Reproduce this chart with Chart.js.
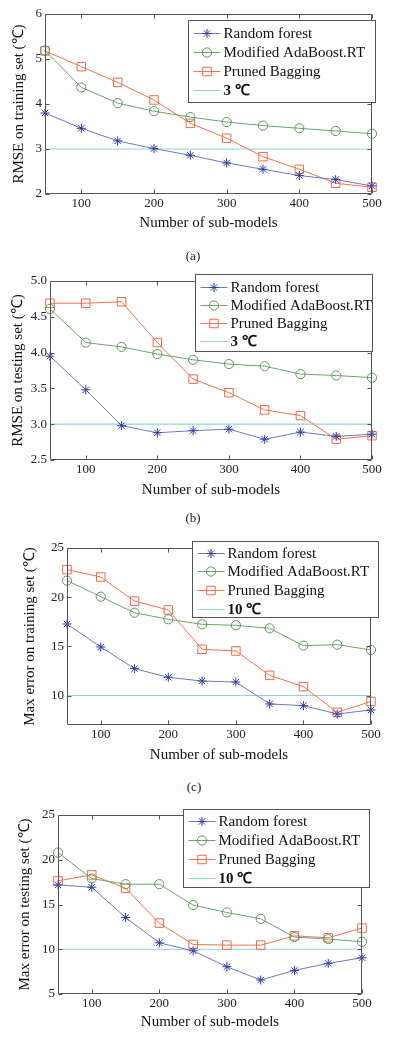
<!DOCTYPE html>
<html>
<head>
<meta charset="utf-8">
<script src="https://cdn.jsdelivr.net/npm/chart.js@4.4.0/dist/chart.umd.min.js"></script>
<style>
  body { margin: 0; background: #fff; width: 395px; height: 1039px; position: relative; overflow: hidden; }
  canvas { position: absolute; left: 0; }
  .cap { position: absolute; width: 40px; text-align: center; font: 13px/16px "Liberation Serif", serif; color: #222; }
</style>
</head>
<body>
<canvas id="chartA" width="395" height="240" style="top:0px"></canvas>
<canvas id="chartB" width="395" height="240" style="top:262px"></canvas>
<canvas id="chartC" width="395" height="240" style="top:527px"></canvas>
<canvas id="chartD" width="395" height="244" style="top:795px"></canvas>
<div class="cap" style="left:173px;top:248px">(a)</div>
<div class="cap" style="left:173px;top:510px">(b)</div>
<div class="cap" style="left:174px;top:779px">(c)</div>

<script>
// number of sub-models
var xValues = [50, 100, 150, 200, 250, 300, 350, 400, 450, 500];
var xTickLabels = ['100', '200', '300', '400', '500'];
var seriesNames = ['Random forest', 'Modified AdaBoost.RT', 'Pruned Bagging'];

// (a) RMSE on training set
var rfTrainRmse  = [3.80, 3.46, 3.18, 3.01, 2.86, 2.69, 2.55, 2.41, 2.32, 2.18];
var adaTrainRmse = [5.19, 4.37, 4.02, 3.84, 3.71, 3.60, 3.52, 3.46, 3.40, 3.34];
var pbTrainRmse  = [5.18, 4.83, 4.48, 4.09, 3.57, 3.24, 2.83, 2.55, 2.24, 2.15];
// (b) RMSE on testing set
var rfTestRmse  = [3.95, 3.48, 2.98, 2.88, 2.91, 2.93, 2.79, 2.89, 2.83, 2.86];
var adaTestRmse = [4.61, 4.14, 4.08, 3.98, 3.90, 3.84, 3.81, 3.70, 3.68, 3.65];
var pbTestRmse  = [4.69, 4.69, 4.71, 4.14, 3.63, 3.44, 3.20, 3.12, 2.79, 2.84];
// (c) max error on training set
var rfTrainMax  = [17.27, 14.93, 12.73, 11.85, 11.47, 11.37, 9.14, 8.97, 8.12, 8.53];
var adaTrainMax = [21.68, 20.05, 18.42, 17.75, 17.24, 17.14, 16.83, 15.07, 15.17, 14.63];
var pbTrainMax  = [22.80, 22.05, 19.60, 18.70, 14.70, 14.53, 12.05, 10.90, 8.29, 9.40];
// (d) max error on testing set
var rfTestMax  = [17.19, 16.93, 13.55, 10.72, 9.83, 8.05, 6.56, 7.64, 8.42, 9.05];
var adaTestMax = [20.80, 17.90, 17.27, 17.27, 14.93, 14.11, 13.40, 11.36, 11.13, 10.84];
var pbTestMax  = [17.64, 18.31, 16.82, 12.92, 10.54, 10.46, 10.46, 11.50, 11.28, 12.36];

var rmseLimit = 3;
var maxLimit = 10;
var limitLabels = ['3 \u2103', '10 \u2103'];

var yTicksA = ['2', '3', '4', '5', '6'];
var yTicksB = ['2.5', '3.0', '3.5', '4.0', '4.5', '5.0'];
var yTicksC = ['10', '15', '20', '25'];
var yTicksD = ['5', '10', '15', '20', '25'];
var yTitles = ['RMSE on training set (\u2103)', 'RMSE on testing set (\u2103)',
               'Max error on training set (\u2103)', 'Max error on testing set (\u2103)'];
var xTitle = 'Number of sub-models';

// page layout of each panel (absolute px)
var panels = [
  { id: 'chartA', top: 0,   h: 240, left: 45, right: 372, plotTop: 14,  plotBottom: 194, yMin: 2,   yMax: 6, yTitleX: 19, xTitleY: 223,
    series: [rfTrainRmse, adaTrainRmse, pbTrainRmse], limit: rmseLimit, limitLabel: limitLabels[0], yTicks: yTicksA, yTitle: yTitles[0],
    legend: { x: 188, y: 20, w: 187, h: 82, first: 12, step: 19.3 } },
  { id: 'chartB', top: 262, h: 240, left: 50, right: 372, plotTop: 281, plotBottom: 460, yMin: 2.5, yMax: 5, yTitleX: 18, xTitleY: 490,
    series: [rfTestRmse, adaTestRmse, pbTestRmse], limit: rmseLimit, limitLabel: limitLabels[0], yTicks: yTicksB, yTitle: yTitles[1],
    legend: { x: 195, y: 274, w: 177, h: 77, first: 12, step: 18 } },
  { id: 'chartC', top: 527, h: 240, left: 67, right: 371, plotTop: 548, plotBottom: 725, yMin: 7,   yMax: 25, yTitleX: 30, xTitleY: 755,
    series: [rfTrainMax, adaTrainMax, pbTrainMax], limit: maxLimit, limitLabel: limitLabels[1], yTicks: yTicksC, yTitle: yTitles[2],
    legend: { x: 192, y: 541, w: 186, h: 76, first: 11, step: 18.7 } },
  { id: 'chartD', top: 795, h: 244, left: 58, right: 362, plotTop: 815, plotBottom: 994, yMin: 5,   yMax: 25, yTitleX: 25, xTitleY: 1022,
    series: [rfTestMax, adaTestMax, pbTestMax], limit: maxLimit, limitLabel: limitLabels[1], yTicks: yTicksD, yTitle: yTitles[3],
    legend: { x: 183, y: 809, w: 186, h: 78, first: 11, step: 19 } }
];

var styles = [
  { line: '#6f79c8', mark: '#2f3fa3', pointStyle: 'star',   radius: 4.5 },
  { line: '#6ea46e', mark: '#5e985e', pointStyle: 'circle', radius: 4.6 },
  { line: '#f2734f', mark: '#ee6a48', pointStyle: 'rect',   radius: 6 }
];
var limitColor = '#92d5d5';
var serif = '"Liberation Serif", "Times New Roman", serif';

// box + inward ticks + legend, matlab style
var framePlugin = {
  id: 'frame',
  afterDatasetsDraw: function(chart, args, opts) {
    var ctx = chart.ctx, a = chart.chartArea, xs = chart.scales.x, ys = chart.scales.y;
    var L = Math.round(a.left) + 0.5, R = Math.round(a.right) - 0.5;
    var T = Math.round(a.top) + 0.5, B = Math.round(a.bottom) - 0.5;
    ctx.save();
    ctx.strokeStyle = '#555';
    ctx.lineWidth = 1;
    ctx.beginPath();
    ctx.rect(L, T, R - L, B - T);
    xs.ticks.forEach(function(t) {
      var px = Math.round(xs.getPixelForValue(t.value)) + 0.5;
      ctx.moveTo(px, B); ctx.lineTo(px, B - 4);
      ctx.moveTo(px, T); ctx.lineTo(px, T + 4);
    });
    ys.ticks.forEach(function(t) {
      var py = Math.round(ys.getPixelForValue(t.value)) + 0.5;
      ctx.moveTo(L, py); ctx.lineTo(L + 4, py);
      ctx.moveTo(R, py); ctx.lineTo(R - 4, py);
    });
    ctx.stroke();

    // legend
    var lg = opts.box, top = opts.top;
    var bx = lg.x + 0.5, by = lg.y - top + 0.5;
    ctx.fillStyle = '#fff';
    ctx.fillRect(bx, by, lg.w, lg.h);
    ctx.strokeStyle = '#555';
    ctx.strokeRect(bx, by, lg.w, lg.h);
    chart.data.datasets.forEach(function(ds, i) {
      var ey = Math.round(by + lg.first + i * lg.step) + 0.5;
      ctx.strokeStyle = ds.borderColor;
      ctx.lineWidth = 1;
      ctx.beginPath();
      ctx.moveTo(bx + 5, ey); ctx.lineTo(bx + 32, ey);
      ctx.stroke();
      if (ds.pointRadius > 0) {
        ctx.strokeStyle = ds.pointBorderColor;
        ctx.fillStyle = 'rgba(0,0,0,0)';
        Chart.helpers.drawPoint(ctx, { pointStyle: ds.pointStyle, radius: ds.pointRadius, rotation: 0, borderWidth: 1 }, bx + 18.5, ey);
      }
      ctx.fillStyle = '#111';
      ctx.font = (ds.isLimit ? 'bold ' : '') + '15px ' + serif;
      ctx.textBaseline = 'middle';
      ctx.textAlign = 'left';
      ctx.fillText(ds.label, bx + 35, ey + 1);
    });
    ctx.restore();
  }
};

panels.forEach(function(p) {
  var datasets = p.series.map(function(vals, i) {
    var s = styles[i];
    return {
      label: seriesNames[i],
      data: xValues.map(function(x, k) { return { x: x, y: vals[k] }; }),
      borderColor: s.line,
      borderWidth: 1,
      pointStyle: s.pointStyle,
      pointRadius: s.radius,
      pointBorderColor: s.mark,
      pointBorderWidth: 1,
      pointBackgroundColor: 'rgba(0,0,0,0)',
      pointHoverRadius: s.radius,
      clip: false,
      tension: 0
    };
  });
  datasets.push({
    label: p.limitLabel,
    isLimit: true,
    data: xValues.map(function(x) { return { x: x, y: p.limit }; }),
    borderColor: limitColor,
    borderWidth: 1.2,
    pointRadius: 0,
    order: 5
  });

  var relTop = p.plotTop - p.top, relBottom = p.plotBottom - p.top;
  var titleLh = 15 * 1.2;
  var yTickVals = p.yTicks.map(Number);
  var xTickVals = xTickLabels.map(Number);

  new Chart(document.getElementById(p.id), {
    type: 'line',
    data: { datasets: datasets },
    plugins: [framePlugin],
    options: {
      responsive: false,
      animation: false,
      devicePixelRatio: 1,
      layout: { padding: { left: 0, right: 395 - p.right, top: relTop, bottom: 0 } },
      plugins: {
        legend: { display: false },
        tooltip: { enabled: false },
        frame: { box: p.legend, top: p.top }
      },
      scales: {
        x: {
          type: 'linear',
          min: xValues[0],
          max: xValues[xValues.length - 1],
          grid: { display: false, drawTicks: false },
          border: { display: false },
          afterBuildTicks: function(s) { s.ticks = xTickVals.map(function(v) { return { value: v }; }); },
          afterFit: function(s) { s.height = p.h - relBottom; },
          ticks: {
            autoSkip: false, maxRotation: 0, padding: 2, color: '#222',
            font: { family: serif, size: 13 },
            callback: function(v) { return xTickLabels[xTickVals.indexOf(v)]; }
          },
          title: {
            display: true, text: xTitle, color: '#111',
            font: { family: serif, size: 15 },
            padding: { top: 0, bottom: (p.top + p.h) - p.xTitleY - titleLh / 2 }
          }
        },
        y: {
          type: 'linear',
          min: p.yMin,
          max: p.yMax,
          grid: { display: false, drawTicks: false },
          border: { display: false },
          afterBuildTicks: function(s) { s.ticks = yTickVals.map(function(v) { return { value: v }; }); },
          afterFit: function(s) { s.width = p.left; },
          ticks: {
            autoSkip: false, padding: 3, color: '#222',
            font: { family: serif, size: 13 },
            callback: function(v) { return p.yTicks[yTickVals.indexOf(v)]; }
          },
          title: {
            display: true, text: p.yTitle, color: '#111',
            font: { family: serif, size: 15 },
            padding: { top: p.yTitleX - titleLh / 2, bottom: 0 }
          }
        }
      }
    }
  });
});
</script>
</body>
</html>
